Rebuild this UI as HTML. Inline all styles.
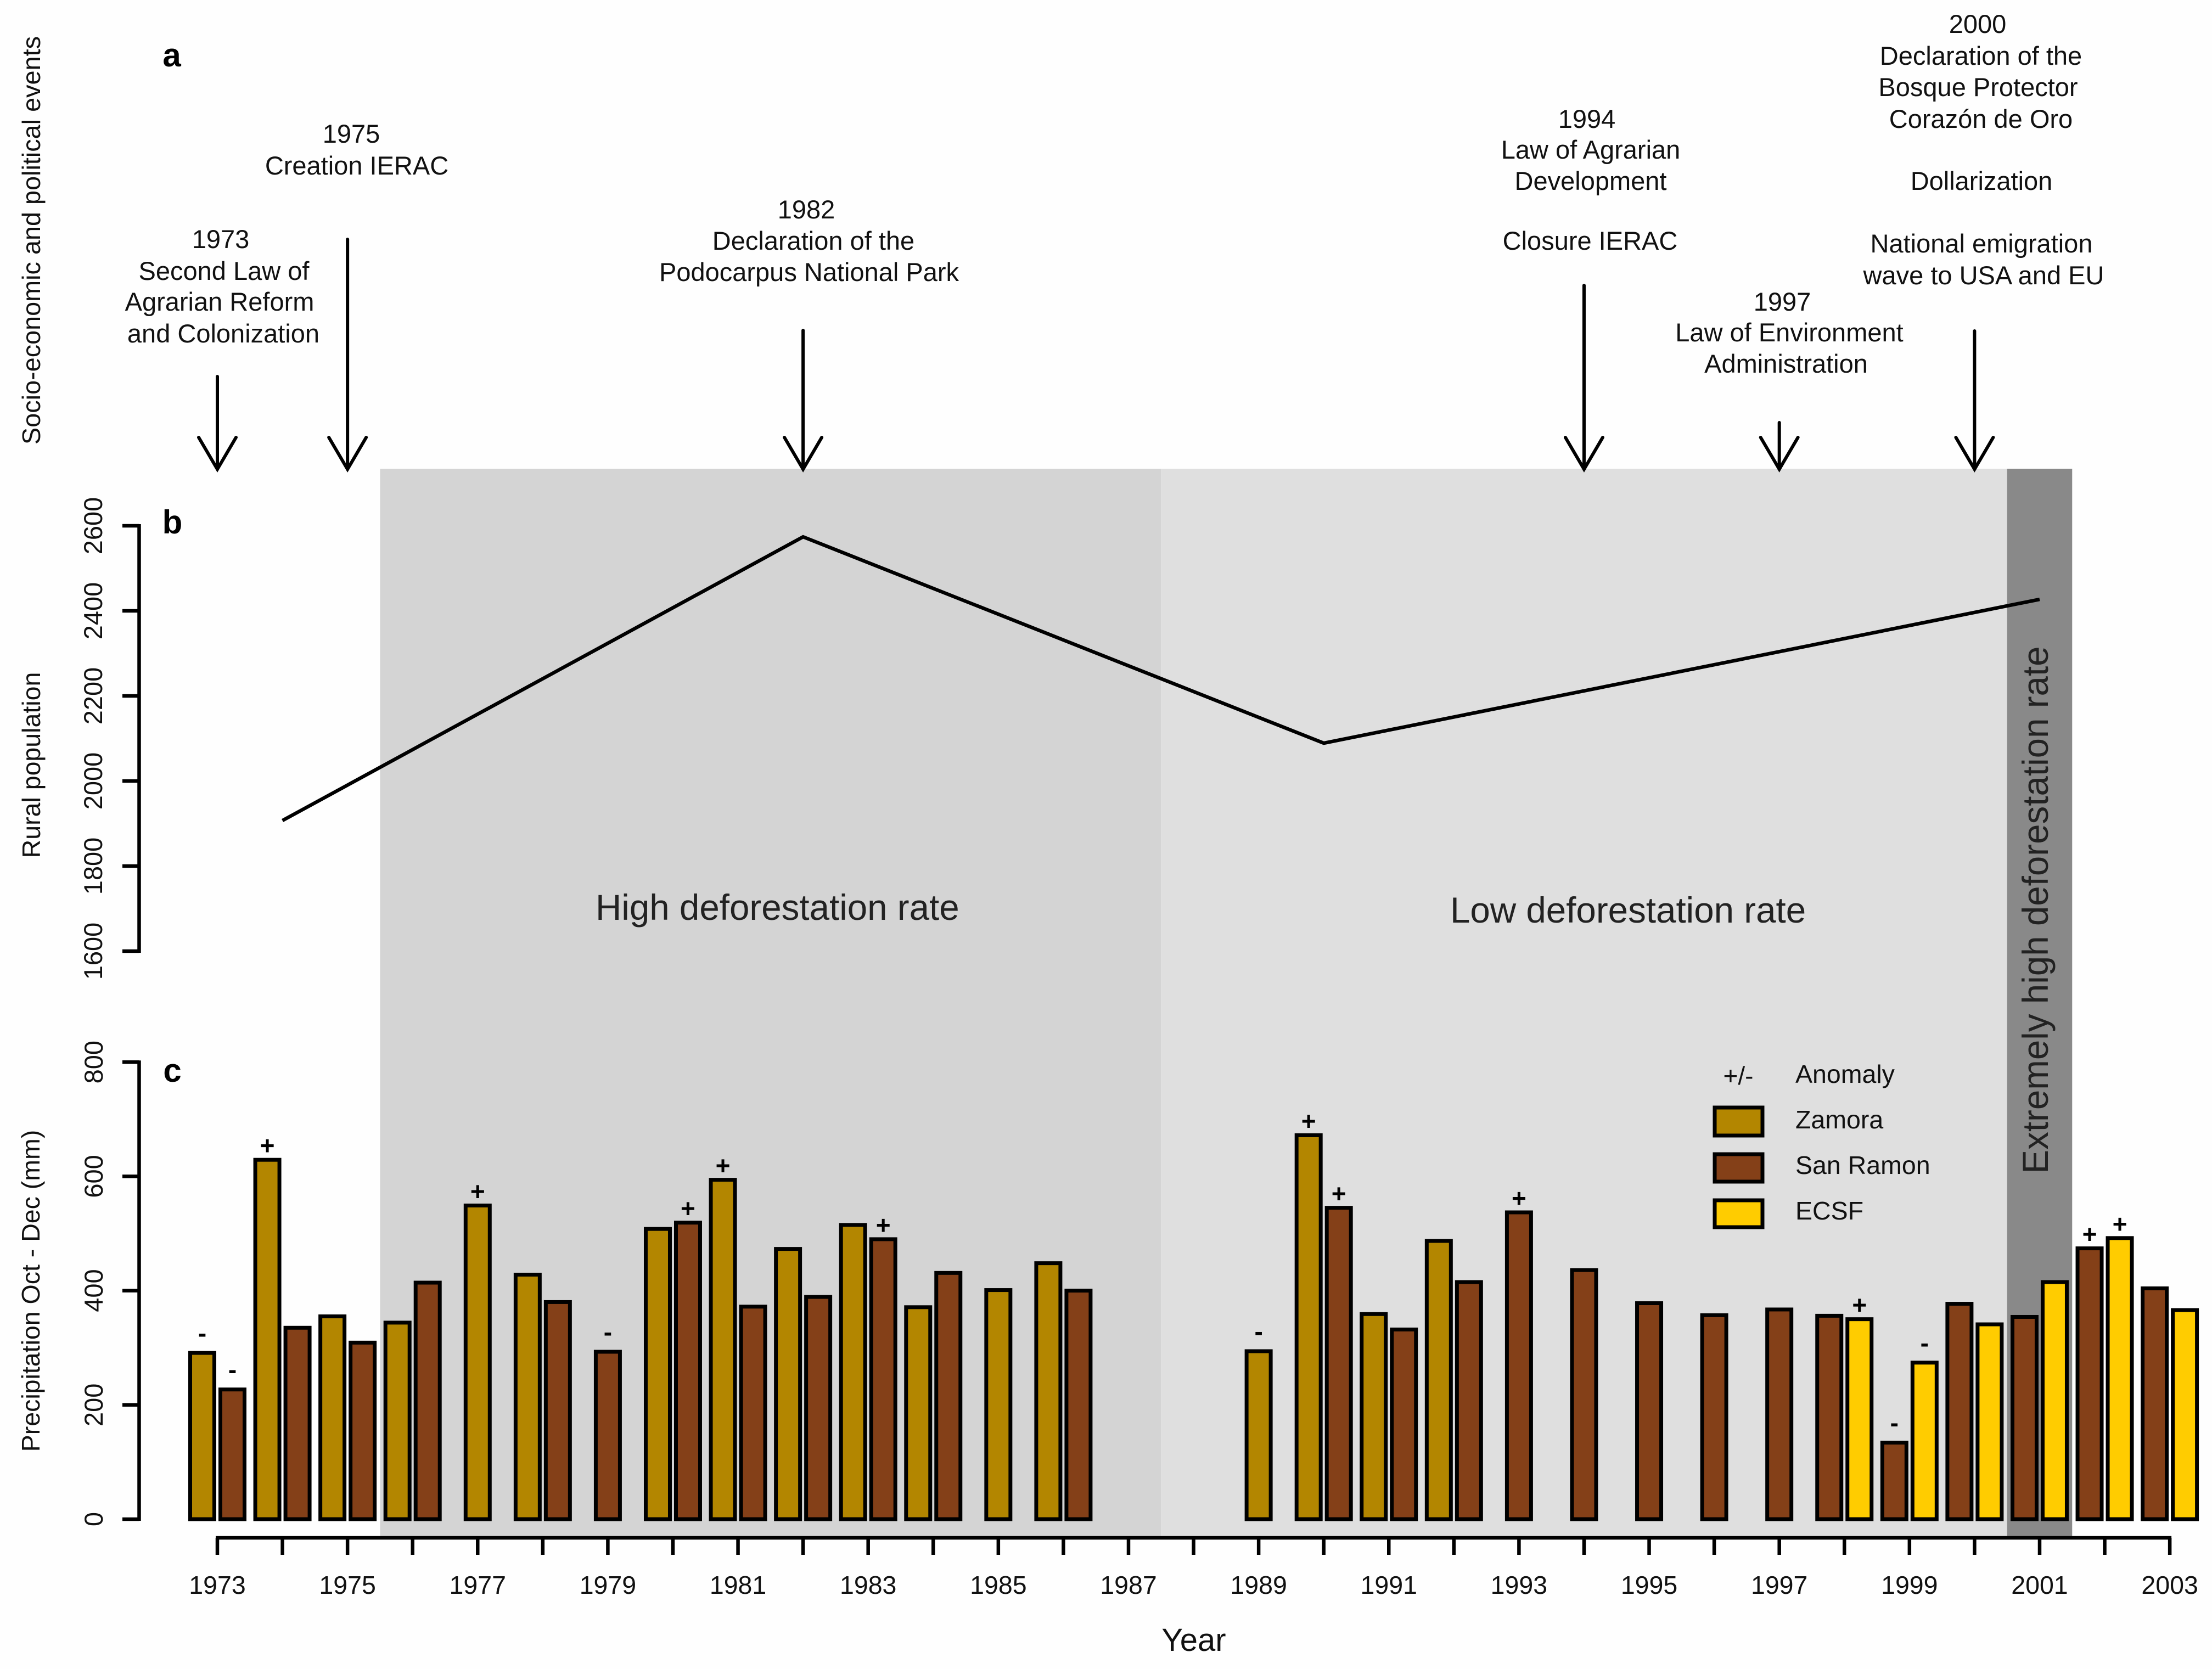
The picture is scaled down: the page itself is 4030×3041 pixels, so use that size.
<!DOCTYPE html>
<html lang="en">
<head>
<meta charset="utf-8">
<title>Deforestation, population and precipitation timeline</title>
<style>
html,body{margin:0;padding:0;background:#fefefe;}
svg{display:block;}
text{font-family:"Liberation Sans",Arial,sans-serif;fill:#111;}
.ev{font-size:47px;text-anchor:middle;}
.rot{font-size:46.5px;text-anchor:middle;}
.panel{font-size:60px;font-weight:bold;text-anchor:middle;fill:#000;}
.leg{font-size:46.5px;}
.band{font-size:65.5px;fill:#222;}
</style>
</head>
<body>
<svg id="chart" xmlns="http://www.w3.org/2000/svg" width="4030" height="3041" viewBox="0 0 4030 3041">
  <rect x="0" y="0" width="4030" height="3041" fill="#fefefe"/>
  <g id="bands"></g>

  <text class="rot" transform="translate(73 438) rotate(-90)" style="font-size:46.8px">Socio-economic and political events</text>
  <text class="rot" transform="translate(73 1394) rotate(-90)">Rural population</text>
  <text class="rot" transform="translate(72 2352) rotate(-90)">Precipitation Oct - Dec (mm)</text>

  <text class="panel" x="313" y="121">a</text>
  <text class="panel" x="314" y="972">b</text>
  <text class="panel" x="314" y="1971">c</text>

  <g>
    <text class="ev" x="402" y="452">1973</text>
    <text class="ev" x="408" y="510">Second Law of</text>
    <text class="ev" x="400" y="566">Agrarian Reform</text>
    <text class="ev" x="407" y="624">and Colonization</text>
  </g>
  <g>
    <text class="ev" x="640" y="260">1975</text>
    <text class="ev" x="650" y="318">Creation IERAC</text>
  </g>
  <g>
    <text class="ev" x="1469" y="398">1982</text>
    <text class="ev" x="1482" y="455">Declaration of the</text>
    <text class="ev" x="1474" y="512">Podocarpus National Park</text>
  </g>
  <g>
    <text class="ev" x="2891" y="233">1994</text>
    <text class="ev" x="2898" y="289">Law of Agrarian</text>
    <text class="ev" x="2898" y="346">Development</text>
    <text class="ev" x="2897" y="455">Closure IERAC</text>
  </g>
  <g>
    <text class="ev" x="3247" y="566">1997</text>
    <text class="ev" x="3260" y="622">Law of Environment</text>
    <text class="ev" x="3254" y="679">Administration</text>
  </g>
  <g>
    <text class="ev" x="3603" y="60">2000</text>
    <text class="ev" x="3609" y="118">Declaration of the</text>
    <text class="ev" x="3604" y="175">Bosque Protector</text>
    <text class="ev" x="3609" y="233">Corazón de Oro</text>
    <text class="ev" x="3610" y="346">Dollarization</text>
    <text class="ev" x="3610" y="460">National emigration</text>
    <text class="ev" x="3614" y="518">wave to USA and EU</text>
  </g>
  <g id="arrows"></g>

  <text class="band" x="1085" y="1676">High deforestation rate</text>
  <text class="band" x="2642" y="1681">Low deforestation rate</text>
  <text class="band" text-anchor="middle" transform="translate(3731 1658) rotate(-90)">Extremely high deforestation rate</text>

  <g id="popAxis"></g>
  <g id="popLine"></g>
  <g id="precipAxis"></g>
  <g id="bars"></g>
  <g id="xAxis"></g>
  <text x="2175" y="3008" text-anchor="middle" style="font-size:58px">Year</text>

  <g>
    <text x="3167" y="1976" text-anchor="middle" style="font-size:46px">+/-</text>
    <text class="leg" x="3271" y="1973">Anomaly</text>
    <rect x="3124" y="2018" width="87" height="51" fill="#b38600" stroke="#000" stroke-width="7"/>
    <text class="leg" x="3271" y="2056">Zamora</text>
    <rect x="3124" y="2103" width="87" height="50" fill="#844018" stroke="#000" stroke-width="7"/>
    <text class="leg" x="3271" y="2139">San Ramon</text>
    <rect x="3124" y="2187" width="87" height="49" fill="#ffcc00" stroke="#000" stroke-width="7"/>
    <text class="leg" x="3271" y="2222">ECSF</text>
  </g>
</svg>
<script>
// ---- Data ----
const years = [1973,1974,1975,1976,1977,1978,1979,1980,1981,1982,1983,1984,1985,1986,1987,1988,1989,1990,1991,1992,1993,1994,1995,1996,1997,1998,1999,2000,2001,2002,2003];
const zamora = [291,629,355,344,549,428,null,508,594,473,515,371,401,448,null,null,294,672,359,487,null,null,null,null,null,null,null,null,null,null,null];
const sanRamon = [227,335,309,414,null,380,293,519,372,389,490,431,null,400,null,null,null,545,332,415,537,436,378,357,367,356,134,377,354,474,404];
const ecsf = [null,null,null,null,null,null,null,null,null,null,null,null,null,null,null,null,null,null,null,null,null,null,null,null,null,350,274,341,415,492,366];
const zamoraAnomaly = ['-','+','','','+','','','','+','','','','','','','','-','+','','','','','','','','','','','','',''];
const sanRamonAnomaly = ['-','','','','','','-','+','','','+','','','','','','','+','','','+','','','','','','-','','','+',''];
const ecsfAnomaly = ['','','','','','','','','','','','','','','','','','','','','','','','','','+','-','','','+',''];
const popYears = [1974,1982,1990,2001];
const popValues = [1907,2574,2089,2427];
const popTicks = [1600,1800,2000,2200,2400,2600];
const precipTicks = [0,200,400,600,800];
const bandStarts = [1975.5,1987.5,2000.5];
const bandEnds = [1987.5,2000.5,2001.5];
const bandColors = ['#d4d4d4','#dfdfdf','#898989'];
const bandNames = ['high-deforestation-band','low-deforestation-band','extreme-deforestation-band'];
const eventYears = [1973,1975,1982,1994,1997,2000];

// ---- Axis functions ----
const NS = 'http://www.w3.org/2000/svg';
function xScale(y){ return 396 + (y - 1973) * 118.57; }
function popY(v){ return 1733 - (v - 1600) * 0.775; }
function precipY(v){ return 2768 - v * 1.041; }

function make(tag, parent, attrs, text){
  const el = document.createElementNS(NS, tag);
  Object.keys(attrs).forEach(function(k){ el.setAttribute(k, attrs[k]); });
  if (text !== undefined) el.textContent = text;
  parent.appendChild(el);
  return el;
}
const seriesFill = {zamora:'#b38600', sanRamon:'#844018', ecsf:'#ffcc00'};

// Bands
const bandsG = document.getElementById('bands');
bandStarts.forEach(function(s, i){
  const el = make('rect', bandsG, {x:xScale(s), y:854, width:xScale(bandEnds[i])-xScale(s), height:1946, fill:bandColors[i]});
  
  
});

// Event arrows
const arrowsG = document.getElementById('arrows');
function arrow(year, topY){
  const x = xScale(year), tip = 855;
  const g = make('g', arrowsG, {fill:'none', stroke:'#000', 'stroke-width':6, 'stroke-linecap':'round', 'stroke-linejoin':'miter'});
  
  
  make('line', g, {x1:x, y1:topY, x2:x, y2:tip});
  make('polyline', g, {points:(x-34)+',797 '+x+','+tip+' '+(x+34)+',797'});
}
const arrowTops = {1973:686, 1975:436, 1982:602, 1994:520, 1997:770, 2000:603};
eventYears.forEach(function(y){ arrow(y, arrowTops[y]); });

// Y axes
function yAxis(group, ticks, scale, labelX){
  const g = document.getElementById(group);
  const first = scale(ticks[0]), last = scale(ticks[ticks.length-1]);
  make('line', g, {x1:253.5, y1:first+3, x2:253.5, y2:last-3, stroke:'#000', 'stroke-width':6.5});
  ticks.forEach(function(t){
    const y = scale(t);
    const tick = make('line', g, {x1:223, y1:y, x2:253.5, y2:y, stroke:'#000', 'stroke-width':6.5});
    
    
    const lab = make('text', g, {transform:'translate('+labelX+' '+y+') rotate(-90)', 'text-anchor':'middle', style:'font-size:47px'}, String(t));
    
    
  });
}
yAxis('popAxis', popTicks, popY, 186);
yAxis('precipAxis', precipTicks, precipY, 187);

// Population line
const popPoints = popYears.map(function(y, i){ return xScale(y)+','+popY(popValues[i]); }).join(' ');
const popEl = make('polyline', document.getElementById('popLine'), {points:popPoints, fill:'none', stroke:'#000', 'stroke-width':6.5, 'stroke-linejoin':'miter'});



// Bars
const barsG = document.getElementById('bars');
function drawBar(cx, value, fill, mark){
  const top = precipY(value), bottom = precipY(0);
  const r = make('rect', barsG, {x:cx-22, y:top, width:44, height:bottom-top, fill:fill, stroke:'#000', 'stroke-width':7});
  
  
  if (mark){
    const off = mark === '+' ? 10 : 20;
    const t = make('text', barsG, {x:cx, y:top-off, 'text-anchor':'middle', style:'font-size:46px;font-weight:bold;fill:#000'}, mark);
    
    
  }
}
years.forEach(function(yr, i){
  const present = [];
  if (zamora[i] !== null) present.push([zamora[i], seriesFill.zamora, zamoraAnomaly[i]]);
  if (sanRamon[i] !== null) present.push([sanRamon[i], seriesFill.sanRamon, sanRamonAnomaly[i]]);
  if (ecsf[i] !== null) present.push([ecsf[i], seriesFill.ecsf, ecsfAnomaly[i]]);
  const c = xScale(yr);
  if (present.length === 1){
    drawBar(c, present[0][0], present[0][1], present[0][2]);
  } else if (present.length === 2){
    drawBar(c-27.5, present[0][0], present[0][1], present[0][2]);
    drawBar(c+27.5, present[1][0], present[1][1], present[1][2]);
  }
});

// X axis
const xG = document.getElementById('xAxis');
make('line', xG, {x1:xScale(years[0])-3, y1:2802, x2:xScale(years[years.length-1])+3, y2:2802, stroke:'#000', 'stroke-width':6.5});
years.forEach(function(yr, i){
  const x = xScale(yr);
  const tick = make('line', xG, {x1:x, y1:2802, x2:x, y2:2833, stroke:'#000', 'stroke-width':6.5});
  
  
  if (i % 2 === 0){
    const lab = make('text', xG, {x:x, y:2904, 'text-anchor':'middle', style:'font-size:46.5px'}, String(yr));
    
    
  }
});
</script>
</body>
</html>
